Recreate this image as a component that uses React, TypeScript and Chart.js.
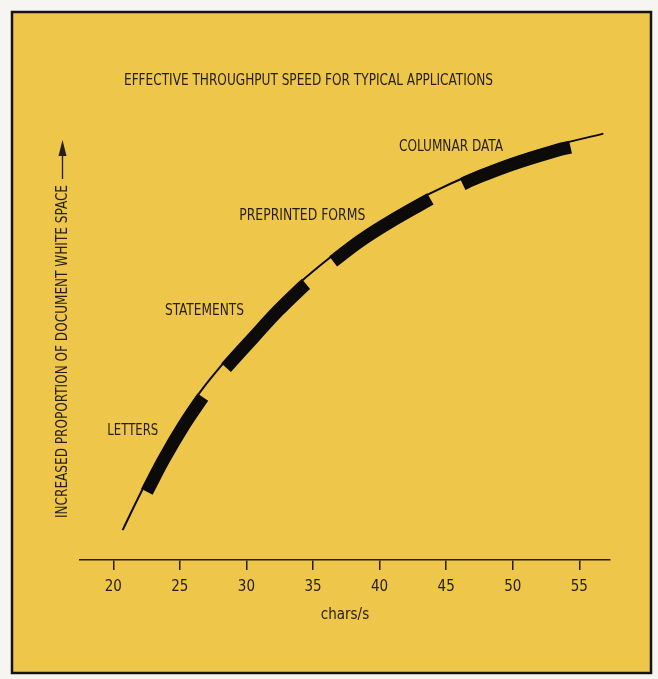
import React, { useEffect, useRef } from "react";
import { Chart, registerables } from "chart.js";

Chart.register(...registerables);

// ---- data ----
const xTicks = [20, 25, 30, 35, 40, 45, 50, 55];

const curveX = [20.7, 22.0, 23.5, 25.0, 26.5, 28.4, 30.3, 32.1, 34.0, 36.3, 38.5, 41.2, 43.8, 46.8, 49.8, 53.2, 56.8];
const curveY = [6.8, 14.9, 23.6, 31.3, 38.1, 45.2, 51.5, 57.4, 63.0, 68.8, 73.8, 78.9, 83.3, 87.5, 91.0, 94.2, 96.9];

const lettersX = [22.2, 23.5, 25.0, 26.4];
const lettersY = [16.1, 23.6, 31.3, 37.6];
const statementsX = [28.2, 30.3, 32.1, 34.0, 34.2];
const statementsY = [44.5, 51.5, 57.4, 63.0, 63.5];
const formsX = [36.3, 38.5, 41.2, 43.6];
const formsY = [68.8, 73.8, 78.9, 83.0];
const columnarX = [46.1, 46.8, 49.8, 53.2, 54.2];
const columnarY = [86.5, 87.5, 91.0, 94.2, 94.9];

const labelNames = ["LETTERS", "STATEMENTS", "PREPRINTED FORMS", "COLUMNAR DATA"];
const labelX = [19.55, 23.88, 29.46, 41.45];
const labelY = [29.4, 56.6, 78.2, 93.9];

const titleText = "EFFECTIVE THROUGHPUT SPEED FOR TYPICAL APPLICATIONS";
const yAxisText = "INCREASED PROPORTION OF DOCUMENT WHITE SPACE";
const xAxisText = "chars/s";

// ---- style ----
const INK = "#231e17";
const YELLOW = "#eec64a";
const FONT = '"Liberation Sans Narrow", "DejaVu Sans Condensed", "Arial Narrow", sans-serif';

const pts = (xs: number[], ys: number[]) => xs.map((x, i) => ({ x, y: ys[i] }));

function fitText(ctx: CanvasRenderingContext2D, text: string, x: number, y: number, target: number) {
  const w = ctx.measureText(text).width;
  const s = Math.max(0.7, Math.min(1.3, target / w));
  ctx.save();
  ctx.translate(x, y);
  ctx.scale(s, 1);
  ctx.fillText(text, 0, 0);
  ctx.restore();
  return w * s;
}

const decor = {
  id: "decor",
  beforeDraw(chart: any) {
    const ctx = chart.ctx as CanvasRenderingContext2D;
    ctx.save();
    ctx.fillStyle = "#f6f5f1";
    ctx.fillRect(0, 0, chart.width, chart.height);
    ctx.fillStyle = YELLOW;
    ctx.fillRect(12, 12, 639, 661);
    ctx.strokeStyle = "#161412";
    ctx.lineWidth = 2.5;
    ctx.strokeRect(12, 12, 639, 661);
    ctx.restore();
  },
  beforeDatasetDraw(chart: any, args: any) {
    const ds = chart.data.datasets[args.index];
    const ctx = chart.ctx as CanvasRenderingContext2D;
    ctx.save();
    if (ds.shift) ctx.translate(ds.shift[0], ds.shift[1]);
  },
  afterDatasetDraw(chart: any) {
    chart.ctx.restore();
  },
  afterDraw(chart: any) {
    const ctx = chart.ctx as CanvasRenderingContext2D;
    const xs = chart.scales.x;
    const ys = chart.scales.y;
    ctx.save();
    ctx.fillStyle = INK;
    ctx.textBaseline = "middle";
    ctx.textAlign = "left";
    ctx.font = `16px ${FONT}`;
    // title
    fitText(ctx, titleText, 124, 81, 369);
    // category labels
    const widths = [51, 79, 126, 104];
    labelNames.forEach((t, i) => {
      fitText(ctx, t, xs.getPixelForValue(labelX[i]), ys.getPixelForValue(labelY[i]), widths[i]);
    });
    // y axis label with arrow
    ctx.save();
    ctx.translate(62.5, 518);
    ctx.rotate(-Math.PI / 2);
    const w = fitText(ctx, yAxisText, 0, 0, 333);
    ctx.strokeStyle = INK;
    ctx.lineWidth = 1.3;
    ctx.beginPath();
    ctx.moveTo(w + 6, 0);
    ctx.lineTo(366, 0);
    ctx.stroke();
    ctx.beginPath();
    ctx.moveTo(378, 0);
    ctx.lineTo(362, -4);
    ctx.lineTo(362, 4);
    ctx.closePath();
    ctx.fill();
    ctx.restore();
    ctx.restore();
  },
};

export default function App() {
  const ref = useRef<HTMLCanvasElement | null>(null);
  useEffect(() => {
    if (!ref.current) return;
    const bar = (data: any, shift: number[]) => ({
      data,
      borderColor: "#0d0b0a",
      borderWidth: 13,
      borderCapStyle: "butt",
      tension: 0.4,
      pointRadius: 0,
      fill: false,
      shift,
    });
    const chart = new Chart(ref.current, {
      type: "line",
      data: {
        datasets: [
          {
            data: pts(curveX, curveY),
            borderColor: "#0d0b0a",
            borderWidth: 2,
            tension: 0.4,
            pointRadius: 0,
            fill: false,
          } as any,
          bar(pts(lettersX, lettersY), [4.3, 2.5]),
          bar(pts(statementsX, statementsY), [3.6, 3.4]),
          bar(pts(formsX, formsY), [2.8, 4.1]),
          bar(pts(columnarX, columnarY), [1.8, 4.7]),
        ],
      },
      options: {
        animation: false,
        responsive: false,
        devicePixelRatio: 1,
        layout: { padding: { left: 80, right: 48, top: 120, bottom: 0 } },
        plugins: {
          legend: { display: false },
          tooltip: { enabled: false },
          title: { display: false },
        },
        scales: {
          x: {
            type: "linear",
            min: 17.5,
            max: 57.3,
            afterBuildTicks: (s: any) => {
              s.ticks = xTicks.map((v) => ({ value: v }));
            },
            afterFit: (s: any) => {
              s.height = 119;
            },
            grid: {
              display: true,
              drawOnChartArea: false,
              drawTicks: true,
              tickLength: 10,
              color: INK,
              lineWidth: 1.5,
            },
            border: { display: true, color: INK, width: 1.5 },
            ticks: {
              color: INK,
              font: { family: FONT, size: 15 },
              padding: 8,
              maxRotation: 0,
              autoSkip: false,
            },
            title: {
              display: true,
              text: xAxisText,
              color: INK,
              font: { family: FONT, size: 15 },
              padding: { top: 0, bottom: 55 },
            },
          },
          y: { type: "linear", min: 0, max: 100, display: false },
        },
      } as any,
      plugins: [decor],
    });
    return () => chart.destroy();
  }, []);
  return (
    <div style={{ position: "absolute", left: 0, top: 0, width: 658, height: 679 }}>
      <canvas ref={ref} width={658} height={679} style={{ display: "block", width: 658, height: 679 }} />
    </div>
  );
}
